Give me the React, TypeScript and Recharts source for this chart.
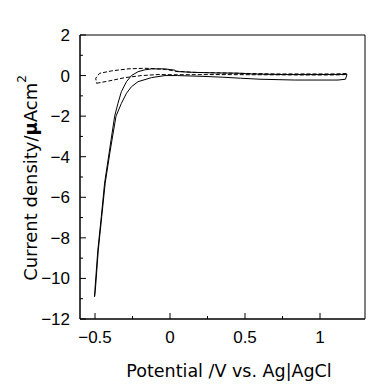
import React from "react";
import { LineChart, Line, XAxis, YAxis, ReferenceArea } from "recharts";

// Solid CV loop (potential / V, current density / µA cm^-2)
const solidV = [1.18, 1.0, 0.75, 0.54, 0.45, 0.31, 0.15, 0.04, 0.03, -0.034, -0.123, -0.17, -0.213, -0.257, -0.29, -0.324, -0.347, -0.369, -0.403, -0.436, -0.458, -0.481, -0.499, -0.503,
  -0.498, -0.478, -0.455, -0.432, -0.398, -0.36, -0.324, -0.29, -0.257, -0.213, -0.123, -0.034, 0.05, 0.22, 0.35, 0.47, 0.6, 0.83, 1.12, 1.17, 1.18];
const solidI = [0.06, 0.05, 0.05, 0.08, 0.12, 0.13, 0.16, 0.2, 0.27, 0.33, 0.33, 0.28, 0.19, 0.0, -0.3, -0.79, -1.37, -2.0, -3.67, -5.3, -6.95, -8.6, -10.4, -10.9,
  -10.6, -8.6, -6.95, -5.3, -3.67, -2.0, -1.37, -0.87, -0.55, -0.3, -0.1, 0.0, 0.0, -0.04, -0.08, -0.13, -0.18, -0.22, -0.22, -0.18, 0.06];

// Dashed CV loop
const dashedV = [-0.49, -0.41, -0.3, -0.19, -0.08, 0.05, 0.3, 0.6, 0.9, 1.1, 1.17, 1.18, 1.1, 0.7, 0.4, 0.15, 0.04, -0.03, -0.1, -0.17, -0.28, -0.39, -0.47, -0.495, -0.49];
const dashedI = [-0.38, -0.27, -0.1, 0.0, 0.05, 0.04, 0.05, 0.04, 0.03, 0.03, 0.05, 0.1, 0.08, 0.08, 0.12, 0.16, 0.22, 0.3, 0.34, 0.36, 0.33, 0.23, 0.11, -0.13, -0.38];

const xTicks = [-0.5, -0.25, 0, 0.25, 0.5, 0.75, 1];
const xLabeled = [-0.5, 0, 0.5, 1];
const yTicks = [2, 1, 0, -1, -2, -3, -4, -5, -6, -7, -8, -9, -10, -11, -12];
const yLabeled = [2, 0, -2, -4, -6, -8, -10, -12];

const solidData = solidV.map((x, i) => ({ x, y: solidI[i] }));
const dashedData = dashedV.map((x, i) => ({ x, y: dashedI[i] }));

const FONT = "'Liberation Sans', Arial, sans-serif";
const LFONT = "'DejaVu Sans', sans-serif";

const fmt = (v: number) => (v < 0 ? "\u2212" + String(-v) : String(v));

const XTick = (props: any) => {
  const { x, y, payload } = props;
  const v = payload.value;
  const major = xLabeled.includes(v);
  return (
    <g>
      <line x1={x} x2={x} y1={y} y2={y - (major ? 6 : 3)} stroke="#000" strokeWidth={1} />
      {major && (
        <text x={x} y={y + 24} textAnchor="middle" fontSize={17} fontFamily={FONT} fill="#000">
          {fmt(v)}
        </text>
      )}
    </g>
  );
};

const YTick = (props: any) => {
  const { x, y, payload } = props;
  const v = payload.value;
  const major = yLabeled.includes(v);
  return (
    <g>
      <line x1={x} x2={x + (major ? 6 : 3)} y1={y} y2={y} stroke="#000" strokeWidth={1} />
      {major && (
        <text x={x - 10} y={y + 6} textAnchor="end" fontSize={17} fontFamily={FONT} fill="#000">
          {fmt(v)}
        </text>
      )}
    </g>
  );
};

const YLabel = () => {
  const cx = 22;
  const cy = 170;
  return (
    <text
      x={cx}
      y={cy}
      transform={`rotate(-90, ${cx}, ${cy})`}
      textAnchor="middle"
      dominantBaseline="central"
      fontSize={18}
      fontFamily={LFONT}
      fill="#000"
    >
      Current density/
      <tspan fontWeight="bold">μ</tspan>
      Acm
      <tspan fontSize={12} dy={-8}>2</tspan>
    </text>
  );
};

const XLabel = () => {
  return (
    <text x={221} y={369} textAnchor="middle" fontSize={17.5} fontFamily={LFONT} fill="#000">
      Potential /V vs. Ag|AgCl
    </text>
  );
};

export default function App() {
  return (
    <LineChart width={376} height={383} margin={{ top: 27, right: 19, bottom: 42, left: 0 }}>
      <XAxis
        dataKey="x"
        type="number"
        domain={[-0.6, 1.3]}
        ticks={xTicks}
        interval={0}
        allowDataOverflow
        height={30}
        tickSize={0}
        tickMargin={0}
        tickLine={false}
        axisLine={{ stroke: "#000" }}
        tick={<XTick />}
        label={<XLabel />}
      />
      <YAxis
        dataKey="y"
        type="number"
        domain={[-12, 2]}
        ticks={yTicks}
        interval={0}
        allowDataOverflow
        width={72}
        tickSize={0}
        tickMargin={0}
        tickLine={false}
        axisLine={{ stroke: "#000" }}
        tick={<YTick />}
        label={<YLabel />}
      />
      <ReferenceArea x1={-0.6} x2={1.3} y1={-12} y2={2} fill="none" stroke="#000" strokeWidth={1} />
      <Line
        data={dashedData}
        dataKey="y"
        type="linear"
        stroke="#000"
        strokeWidth={1}
        strokeDasharray="4 2"
        dot={false}
        isAnimationActive={false}
      />
      <Line
        data={solidData}
        dataKey="y"
        type="linear"
        stroke="#000"
        strokeWidth={1}
        dot={false}
        isAnimationActive={false}
      />
    </LineChart>
  );
}
